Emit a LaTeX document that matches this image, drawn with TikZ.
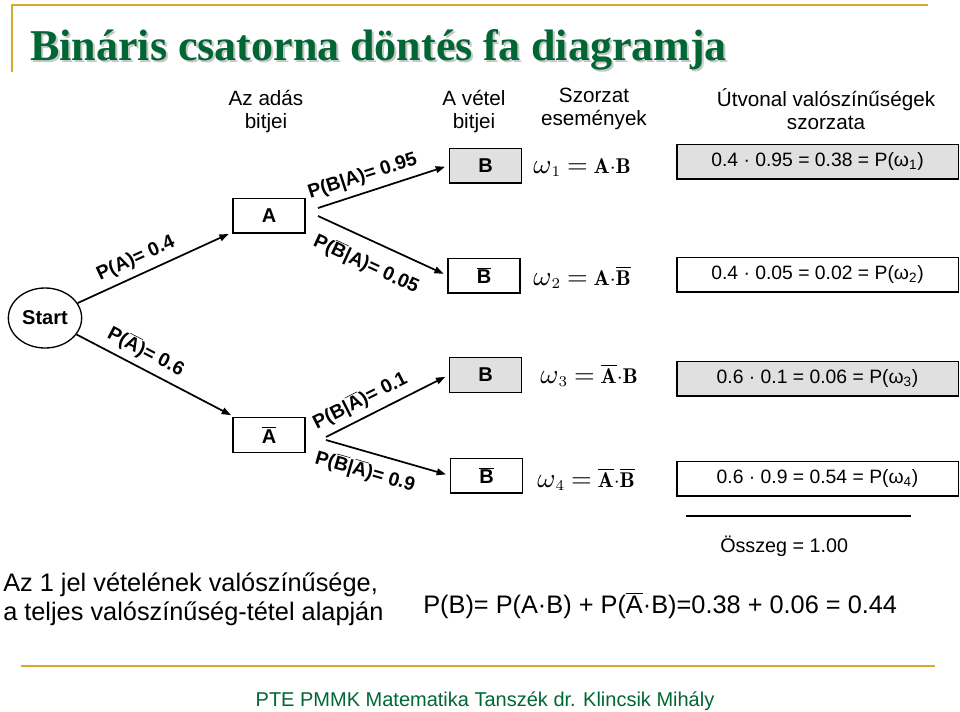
\documentclass[tikz,border=0pt]{standalone}
\usepackage{fontspec}
\usepackage{graphicx}
\newfontfamily\arial{Liberation Sans}
\newfontfamily\titlefont{Liberation Serif}
\usetikzlibrary{arrows.meta, shapes.geometric}
\definecolor{gold}{RGB}{212,172,44}
\definecolor{darkgreen}{RGB}{0,102,51}
\definecolor{boxgray}{RGB}{224,224,224}
\newcommand{\ol}[1]{$\overline{\mbox{#1}}$}
\newcommand{\bigmath}[1]{\scalebox{1.6}{$#1$}}
\newcommand{\om}{\mbox{\scalebox{1.3}{$\omega$}}}
\newcommand{\eq}{\mbox{\scalebox{1.25}{$=$}}}

\begin{document}
\begin{tikzpicture}[x=0.75pt, y=-0.75pt,
    box/.style={draw, line width=1pt, minimum width=54pt, minimum height=26pt,
      inner sep=0pt, font=\arial\fontsize{15}{17}\selectfont\bfseries},
    res/.style={draw, line width=1pt, minimum width=211pt, minimum height=26pt,
      inner sep=0pt, font=\arial\fontsize{14.5}{17}\selectfont},
    arr/.style={line width=1.3pt, -{Triangle[length=7pt,width=5pt]}, shorten >=3pt},
    lbl/.style={sloped, font=\arial\fontsize{14.5}{17}\selectfont\bfseries, inner sep=4.5pt},
    head/.style={align=center, font=\arial\fontsize{15.5}{17.25}\selectfont},
    omg/.style={anchor=base west, inner sep=0pt}]

  \useasboundingbox (0,0) rectangle (960,711);

  % Frame lines
  \draw[gold, line width=2.2pt] (928,5) -- (12,5) -- (12,72);
  \draw[gold, line width=2.2pt] (21,666) -- (935,666);

  % Title with shadow
  \node[anchor=base west, inner sep=0pt, text=black!22,
    font=\titlefont\fontsize{33}{36}\selectfont\bfseries] at (32,62) {Bináris csatorna döntés fa diagramja};
  \node (title) [anchor=base west, inner sep=0pt, text=darkgreen,
    font=\titlefont\fontsize{33}{36}\selectfont\bfseries] at (30,60) {Bináris csatorna döntés fa diagramja};

  % Column headers
  \node (hadas)  [head] at (266,112) {Az adás\\bitjei};
  \node (hvetel) [head] at (474,112) {A vétel\\bitjei};
  \node (hszor)  [head] at (594,109) {Szorzat\\események};
  \node (hut)    [head] at (826,109) {Útvonal valószínűségek\\szorzata};

  % Tree nodes
  \node (start) [draw, ellipse, line width=1pt, minimum width=55pt, minimum height=45pt,
    inner sep=0pt, font=\arial\fontsize{15}{17}\selectfont\bfseries] at (45,318) {Start};
  \node (a)    [box] at (269,215.5) {A};
  \node (abar) [box] at (269,435) {\ol{A}};
  \node (b1) [box, fill=boxgray] at (485.5,165.5) {B};
  \node (b2) [box] at (484,275.5) {\ol{B}};
  \node (b3) [box, fill=boxgray] at (485.5,375) {B};
  \node (b4) [box] at (486.5,475.5) {\ol{B}};

  % Fork points
  \coordinate (aup) at (318,208);
  \coordinate (adn) at (318,216);
  \coordinate (abup) at (326,437);
  \coordinate (abdn) at (326,440);

  % Branches
  \draw[arr] (start) -- node[lbl, above, pos=0.42] {P(A)= 0.4} (a);
  \draw[arr] (start) -- node[lbl, above, pos=0.39] {P(\ol{A})= 0.6} (abar);
  \draw[arr] (aup) -- node[lbl, above, pos=0.38] {P(B|A)= 0.95} (b1.west);
  \draw[arr] (adn) -- node[lbl, below=5pt, pos=0.45] {P(\ol{B}|A)= 0.05} (b2.west);
  \draw[arr] (abup) -- node[lbl, above, pos=0.34] {P(B|\ol{A})= 0.1} (b3.west);
  \draw[arr] (abdn) -- node[lbl, below=2pt, pos=0.36] {P(\ol{B}|\ol{A})= 0.9} (b4.west);

  % Product events
  \node (w1) [omg] at (533,173) {\bigmath{\om_{1}\;\eq\;\mathbf{A}{\cdot}\mathbf{B}}};
  \node (w2) [omg] at (533,285) {\bigmath{\om_{2}\;\eq\;\mathbf{A}{\cdot}\overline{\mathbf{B}}}};
  \node (w3) [omg] at (540,383) {\bigmath{\om_{3}\;\eq\;\overline{\mathbf{A}}{\cdot}\mathbf{B}}};
  \node (w4) [omg] at (537,487) {\bigmath{\om_{4}\;\eq\;\overline{\mathbf{A}}{\cdot}\overline{\mathbf{B}}}};

  % Path probabilities
  \node (r1) [res, fill=boxgray] at (817.5,161.5) {0.4 · 0.95 = 0.38 = P(ω\textsubscript{1})};
  \node (r2) [res] at (817.5,274.5) {0.4 · 0.05 = 0.02 = P(ω\textsubscript{2})};
  \node (r3) [res, fill=boxgray] at (817.5,378.5) {0.6 · 0.1 = 0.06 = P(ω\textsubscript{3})};
  \node (r4) [res] at (817.5,478.5) {0.6 · 0.9 = 0.54 = P(ω\textsubscript{4})};

  % Sum
  \draw[line width=0.8pt] (686,516) -- (911,516);
  \node (sum) [anchor=base west, inner sep=0pt, font=\arial\fontsize{14.8}{17}\selectfont] at (720,552) {Összeg = 1.00};

  % Total probability
  \node (note) [anchor=base west, align=left, inner sep=0pt,
    font=\arial\fontsize{19}{21.75}\selectfont] at (3,620)
    {Az 1 jel vételének valószínűsége,\\a teljes valószínűség-tétel alapján};
  \node (pb) [anchor=base west, inner sep=0pt, font=\arial\fontsize{19}{22}\selectfont] at (423,613)
    {P(B)= P(A·B) + P(\ol{A}·B)=0.38 + 0.06 = 0.44};

  % Footer
  \node (foot) [anchor=base, inner sep=0pt, text=darkgreen,
    font=\arial\fontsize{15}{18}\selectfont] at (485,706) {PTE PMMK Matematika Tanszék dr. Klincsik Mihály};

\end{tikzpicture}
\end{document}
